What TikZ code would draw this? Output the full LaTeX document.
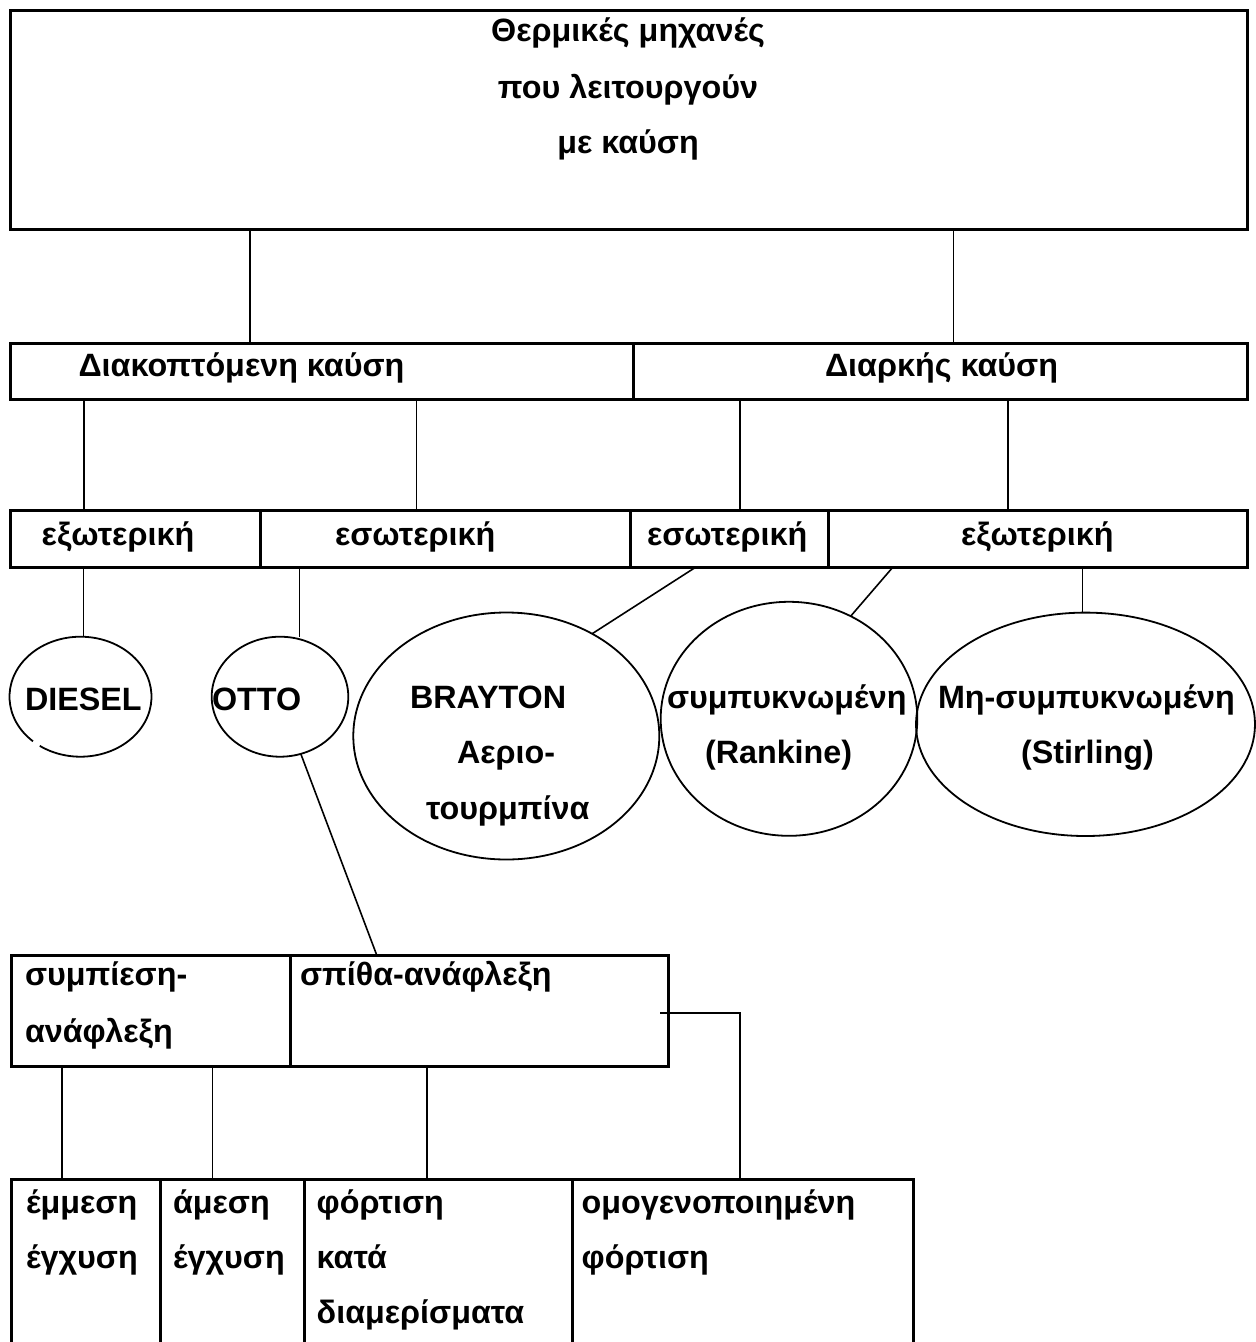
\documentclass[tikz,border=0pt]{standalone}
\usepackage{fontspec}
\setmainfont{Liberation Sans}
\usetikzlibrary{shapes.geometric,calc,fit}

\tikzset{
  cell/.style={draw, line width=3pt, rectangle, inner sep=0pt, outer sep=0pt},
  oval/.style={ellipse, inner sep=0pt, outer sep=0pt},
  ovaldraw/.style={oval, draw, line width=1.8pt},
  ovalline/.style={line width=1.8pt},
  lbl/.style={inner sep=0pt, outer sep=0pt, font=\fontsize{32.3}{38}\selectfont\bfseries},
  link/.style={line width=1.6pt},
}

\begin{document}
\begin{tikzpicture}[x=1pt,y=-1pt]
  \clip (0,0) rectangle (1256,1342);
  \fill[white] (0,0) rectangle (1256,1342);

  % ---- boxes ----
  \node[cell, fit={(10,10) (1247,229)}] (top) {};
  \node[cell, fit={(10,343) (633,399)}] (r2a) {};
  \node[cell, fit={(633,343) (1247,399)}] (r2b) {};
  \node[cell, fit={(10,510) (260,567)}] (r3a) {};
  \node[cell, fit={(260,510) (630,567)}] (r3b) {};
  \node[cell, fit={(630,510) (828,567)}] (r3c) {};
  \node[cell, fit={(828,510) (1247,567)}] (r3d) {};
  \node[cell, fit={(11,955) (290,1066)}] (spA) {};
  \node[cell, fit={(290,955) (668,1066)}] (spB) {};
  \node[cell, fit={(11,1179) (160.7,1390)}] (bA) {};
  \node[cell, fit={(160.7,1179) (304,1390)}] (bB) {};
  \node[cell, fit={(304,1179) (572.7,1390)}] (bC) {};
  \node[cell, fit={(572.7,1179) (913.3,1390)}] (bD) {};

  % ---- ellipses ----
  \node[oval, minimum width=142pt, minimum height=120pt] (diesel) at (80.5,696.7) {};
  \draw[ovalline] ($(diesel.center)+(132:71 and 60)$)
     arc[start angle=132, end angle=485, x radius=71, y radius=60];
  \node[ovaldraw, minimum width=136.6pt, minimum height=120pt] (otto) at (280,696.7) {};
  \node[ovaldraw, minimum width=306pt, minimum height=247pt] (brayton) at (506.3,736) {};
  \node[ovaldraw, minimum width=256.6pt, minimum height=234pt] (rankine) at (789,718.8) {};
  \node[ovaldraw, minimum width=339pt, minimum height=223.4pt] (stirling) at (1085.5,724.3) {};

  % ---- texts ----
  \node[lbl, anchor=base] (tt1) at (628,41) {Θερμικές μηχανές};
  \node[lbl, anchor=base] (tt2) at (628,98) {που λειτουργούν};
  \node[lbl, anchor=base] (tt3) at (628,153) {με καύση};

  \node[lbl, anchor=base west] (t2a) at (78.5,376) {Διακοπτόμενη καύση};
  \node[lbl, anchor=base west] (t2b) at (825,376) {Διαρκής καύση};

  \node[lbl, anchor=base west] (t3a) at (41.7,545) {εξωτερική};
  \node[lbl, anchor=base west] (t3b) at (335,545) {εσωτερική};
  \node[lbl, anchor=base west] (t3c) at (647,545) {εσωτερική};
  \node[lbl, anchor=base west] (t3d) at (961,545) {εξωτερική};

  \node[lbl, anchor=base west] (tdi) at (25,710) {DIESEL};
  \node[lbl, anchor=base west] (tot) at (212,710) {OTTO};
  \node[lbl, anchor=base west] (tbr1) at (410,708) {BRAYTON};
  \node[lbl, anchor=base west] (tbr2) at (457,763) {Αεριο-};
  \node[lbl, anchor=base west] (tbr3) at (426,819) {τουρμπίνα};
  \node[lbl, anchor=base west] (tra1) at (667,708) {συμπυκνωμένη};
  \node[lbl, anchor=base west] (tra2) at (705,763) {(Rankine)};
  \node[lbl, anchor=base west] (tst1) at (938,708) {Μη-συμπυκνωμένη};
  \node[lbl, anchor=base west] (tst2) at (1021,763) {(Stirling)};

  \node[lbl, anchor=base west] (tsa1) at (25,985) {συμπίεση-};
  \node[lbl, anchor=base west] (tsa2) at (25,1042) {ανάφλεξη};
  \node[lbl, anchor=base west] (tsb) at (300,985) {σπίθα-ανάφλεξη};

  \node[lbl, anchor=base west] (tba1) at (26,1213) {έμμεση};
  \node[lbl, anchor=base west] (tba2) at (26,1268) {έγχυση};
  \node[lbl, anchor=base west] (tbb1) at (173,1213) {άμεση};
  \node[lbl, anchor=base west] (tbb2) at (173,1268) {έγχυση};
  \node[lbl, anchor=base west] (tbc1) at (316.7,1213) {φόρτιση};
  \node[lbl, anchor=base west] (tbc2) at (316.7,1268) {κατά};
  \node[lbl, anchor=base west] (tbc3) at (316.7,1323) {διαμερίσματα};
  \node[lbl, anchor=base west] (tbd1) at (581.7,1213) {ομογενοποιημένη};
  \node[lbl, anchor=base west] (tbd2) at (581.7,1268) {φόρτιση};

  % ---- connector columns ----
  \coordinate (xA) at (250,0);
  \coordinate (xB) at (953.5,0);
  \coordinate (xC) at (84,0);
  \coordinate (xD) at (416.5,0);
  \coordinate (xE) at (740,0);
  \coordinate (xF) at (1008,0);
  \coordinate (xG) at (83.5,0);
  \coordinate (xH) at (299.5,0);
  \coordinate (xI) at (696,0);
  \coordinate (xJ) at (893,0);
  \coordinate (xK) at (1082.5,0);
  \coordinate (xL) at (376.7,0);
  \coordinate (xM) at (61.7,0);
  \coordinate (xN) at (212.3,0);
  \coordinate (xO) at (426.7,0);
  \coordinate (xP) at (740,0);
  \coordinate (sparkout) at ($(spB.east)+(-8,2.5)$);

  % ---- connectors ----
  \draw[link] (top.south -| xA) -- (r2a.north -| xA);
  \draw[link] (top.south -| xB) -- (r2b.north -| xB);
  \draw[link] (r2a.south -| xC) -- (r3a.north -| xC);
  \draw[link] (r2a.south -| xD) -- (r3b.north -| xD);
  \draw[link] (r2b.south -| xE) -- (r3c.north -| xE);
  \draw[link] (r2b.south -| xF) -- (r3d.north -| xF);
  \draw[link] (r3a.south -| xG) -- (diesel.north -| xG);
  \draw[link] (r3b.south -| xH) -- (otto.north -| xH);
  \draw[link] (r3c.south -| xI) -- (brayton.50);
  \draw[link] (r3d.south -| xJ) -- (rankine.59);
  \draw[link] (r3d.south -| xK) -- (stirling.north -| xK);
  \draw[link] (otto.-70) -- (spB.north -| xL);
  \draw[link] (spA.south -| xM) -- (bA.north -| xM);
  \draw[link] (spA.south -| xN) -- (bB.north -| xN);
  \draw[link] (spB.south -| xO) -- (bC.north -| xO);
  \draw[link] (sparkout) -| (bD.north -| xP);
\end{tikzpicture}
\end{document}
